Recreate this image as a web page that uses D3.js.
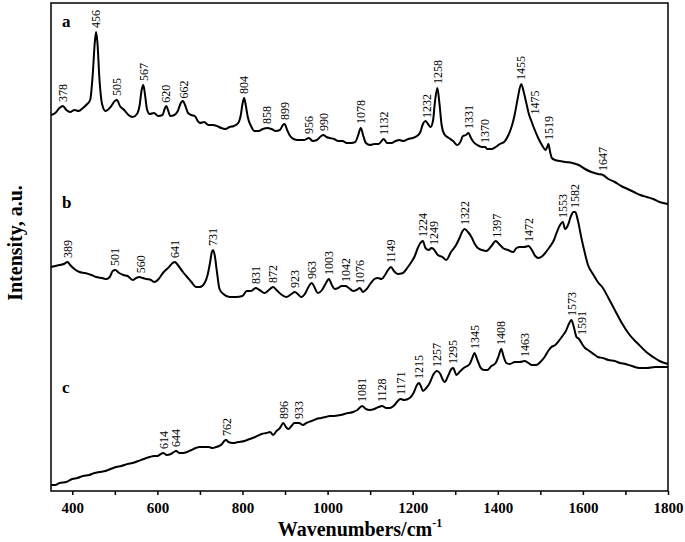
<!DOCTYPE html>
<html>
<head>
<meta charset="utf-8">
<script src="https://cdn.jsdelivr.net/npm/d3@7"></script>
<style>
  html, body { margin: 0; padding: 0; background: #fff; }
  svg { display: block; }
  text { font-family: "Liberation Serif", "Times New Roman", serif; fill: #000; }
</style>
</head>
<body>
<svg id="chart" width="685" height="542"></svg>
<script>
// ---- Data (wavenumber cm^-1, intensity a.u.) ----
const seriesA = [[350,376],[360,378],[370,383],[378,385],[386,381],[395,379],[405,381],[415,380],[425,383],[435,387],[442,391],[448,416],[453,449],[456,459],[459,449],[464,411],[470,387],[478,380],[490,384],[500,390],[505,391],[512,385],[522,381],[532,376],[542,374],[552,377],[558,385],[563,401],[567,406],[571,396],[576,381],[582,377],[592,378],[602,375],[612,376],[617,382],[621,385],[625,381],[630,375],[640,376],[648,380],[655,388],[660,390],[665,386],[672,378],[680,376],[688,375],[695,370],[700,368],[710,369],[720,366],[730,366],[740,365],[750,363],[760,362],[770,364],[780,365],[790,368],[796,376],[800,387],[804,393],[808,385],[813,373],[820,365],[828,360],[838,360],[848,362],[858,363],[868,362],[878,360],[888,361],[895,366],[899,367],[905,361],[912,355],[920,352],[930,351],[945,351],[956,353],[965,350],[975,351],[985,355],[990,356],[997,354],[1005,353],[1015,352],[1025,350],[1035,350],[1045,348],[1055,348],[1065,349],[1072,356],[1078,363],[1084,355],[1090,348],[1100,346],[1110,347],[1120,347],[1132,352],[1140,348],[1150,348],[1160,350],[1168,351],[1178,350],[1190,352],[1200,353],[1210,355],[1218,359],[1224,367],[1230,370],[1236,367],[1242,364],[1248,371],[1252,388],[1258,403],[1263,387],[1268,366],[1274,357],[1285,353],[1295,350],[1305,346],[1312,349],[1318,355],[1325,356],[1331,358],[1337,353],[1343,349],[1352,346],[1362,344],[1370,344],[1375,342],[1385,342],[1395,344],[1405,347],[1415,349],[1425,356],[1433,365],[1440,377],[1447,393],[1455,407],[1461,399],[1467,388],[1473,377],[1478,371],[1485,363],[1495,353],[1505,345],[1512,341],[1516,344],[1519,347],[1523,339],[1527,333],[1535,331],[1545,330],[1560,329],[1575,328],[1590,326],[1605,322],[1620,319],[1635,317],[1647,316],[1660,312],[1675,309],[1690,305],[1705,302],[1720,299],[1735,296],[1750,294],[1765,292],[1780,289],[1800,287]];

const seriesB = [[350,224],[360,225],[370,226],[380,227],[389,229],[395,226],[405,222],[417,219],[430,218],[445,216],[456,214],[470,213],[480,212],[488,214],[495,220],[501,221],[510,218],[520,216],[530,215],[542,211],[550,213],[558,214],[565,213],[575,212],[585,211],[593,209],[603,212],[613,218],[625,223],[636,228],[641,229],[648,226],[660,219],[670,214],[680,209],[691,204],[700,204],[711,208],[718,216],[724,229],[728,239],[731,241],[735,235],[740,219],[746,202],[755,197],[770,194],[785,194],[800,195],[810,200],[820,200],[831,203],[840,201],[852,198],[862,201],[872,204],[880,201],[890,197],[903,194],[915,197],[923,199],[930,197],[938,194],[948,198],[955,204],[963,208],[970,203],[977,198],[987,201],[995,207],[1003,212],[1010,206],[1017,202],[1025,203],[1033,205],[1042,205],[1050,203],[1060,200],[1068,201],[1076,203],[1083,199],[1092,202],[1100,207],[1110,212],[1118,213],[1127,212],[1135,216],[1142,221],[1149,224],[1156,220],[1165,217],[1177,218],[1187,223],[1197,229],[1205,235],[1212,243],[1218,248],[1224,250],[1230,243],[1238,241],[1244,243],[1249,242],[1259,236],[1270,234],[1279,231],[1290,239],[1302,246],[1310,253],[1316,259],[1322,262],[1330,259],[1338,254],[1346,247],[1353,243],[1363,241],[1373,240],[1385,245],[1395,250],[1403,247],[1412,243],[1424,241],[1436,239],[1444,243],[1452,244],[1462,244],[1472,245],[1480,241],[1488,235],[1495,233],[1505,235],[1515,240],[1522,244],[1532,251],[1538,258],[1545,265],[1553,269],[1558,262],[1565,266],[1572,275],[1578,279],[1582,279],[1588,271],[1596,254],[1604,239],[1612,226],[1625,216],[1635,209],[1647,203],[1660,193],[1675,181],[1690,169],[1710,156],[1730,147],[1749,139],[1765,134],[1780,130],[1800,127]];

const seriesC = [[350,6],[360,6],[370,8],[386,9],[400,12],[412,13],[425,15],[440,16],[452,18],[464,19],[478,20],[490,22],[503,24],[515,25],[530,27],[542,28],[555,30],[568,32],[582,34],[592,35],[600,35],[608,37],[614,38],[622,36],[632,37],[644,40],[652,38],[660,38],[670,39],[680,41],[690,43],[699,44],[710,44],[720,44],[730,43],[738,44],[745,45],[752,47],[757,50],[762,51],[767,49],[777,48],[790,49],[805,50],[817,52],[830,54],[845,57],[856,58],[865,59],[872,56],[880,60],[888,63],[896,68],[902,64],[908,62],[915,65],[922,68],[933,68],[942,66],[950,68],[962,70],[974,72],[985,73],[995,74],[1005,75],[1015,75],[1030,76],[1048,78],[1060,79],[1070,81],[1081,85],[1090,82],[1099,81],[1110,82],[1120,84],[1128,85],[1138,83],[1146,83],[1155,85],[1163,89],[1171,92],[1180,91],[1193,93],[1202,98],[1210,106],[1215,108],[1220,104],[1224,100],[1232,103],[1240,108],[1248,116],[1257,120],[1265,117],[1270,112],[1275,109],[1283,115],[1291,122],[1295,123],[1303,116],[1310,119],[1320,123],[1334,127],[1340,133],[1345,138],[1352,131],[1360,123],[1368,121],[1375,121],[1385,125],[1395,128],[1402,135],[1408,142],[1414,134],[1420,128],[1428,127],[1440,129],[1452,129],[1463,130],[1472,128],[1480,126],[1490,126],[1500,129],[1510,134],[1520,141],[1526,144],[1535,146],[1545,151],[1552,155],[1560,160],[1567,167],[1573,171],[1578,165],[1585,154],[1591,152],[1598,147],[1605,143],[1612,141],[1625,137],[1635,134],[1647,133],[1660,131],[1675,130],[1687,128],[1700,127],[1715,125],[1733,123],[1750,123],[1770,124],[1785,124],[1800,124]];

const peaksA = [378,456,505,567,620,662,804,858,899,956,990,1078,1132,1232,1258,1331,1370,1455,1475,1519,1647];
const peaksB = [389,501,560,641,731,831,872,923,963,1003,1042,1076,1149,1224,1249,1322,1397,1472,1553,1582];
const peaksC = [614,644,762,896,933,1081,1128,1171,1215,1257,1295,1345,1408,1463,1573,1591];

const seriesNames = ["a", "b", "c"];
const xTicks = [400,500,600,700,800,900,1000,1100,1200,1300,1400,1500,1600,1700,1800];
const xDomain = [350, 1800];
const yDomain = [0, 488];

// ---- Layout ----
const W = 685, H = 542;
const margin = {left: 51, right: 17, top: 3, bottom: 51};
const svg = d3.select("#chart");

const x = d3.scaleLinear().domain(xDomain).range([margin.left, W - margin.right]);
const y = d3.scaleLinear().domain(yDomain).range([H - margin.bottom, margin.top]);

const line = d3.line().x(d => x(d[0])).y(d => y(d[1])).curve(d3.curveMonotoneX);

const allSeries = [seriesA, seriesB, seriesC];
const allPeaks = [peaksA, peaksB, peaksC];

svg.append("g").selectAll("path").data(allSeries).join("path")
  .attr("d", line)
  .attr("fill", "none")
  .attr("stroke", "#000")
  .attr("stroke-width", 2)
  .attr("stroke-linejoin", "round");

function valueAt(series, w) {
  for (let i = 0; i < series.length - 1; i++) {
    const [x0, y0] = series[i], [x1, y1] = series[i + 1];
    if (w >= x0 && w <= x1) return y0 + (y1 - y0) * (w - x0) / (x1 - x0);
  }
  return series[series.length - 1][1];
}

// small label nudges where a label sits on a steep flank
const labelNudge = {"0-1475": [5, 2], "2-1591": [3, 0]};

// peak labels
allPeaks.forEach((peaks, si) => {
  const g = svg.append("g");
  peaks.forEach(p => {
    const n = labelNudge[si + "-" + p] || [0, 0];
    const px = x(p) + n[0], py = y(valueAt(allSeries[si], p)) - 4 + n[1];
    g.append("text")
      .attr("transform", `translate(${px},${py}) rotate(-90)`)
      .attr("dy", "0.35em")
      .attr("text-anchor", "start")
      .style("font-size", "12px")
      .text(p);
  });
});

// series letters
const letterPos = [[62, 27], [62, 208], [62, 393]];
seriesNames.forEach((n, i) => {
  svg.append("text")
    .attr("x", letterPos[i][0]).attr("y", letterPos[i][1])
    .style("font-size", "17px").style("font-weight", "bold")
    .text(n);
});

// frame
svg.append("rect")
  .attr("x", margin.left).attr("y", margin.top)
  .attr("width", W - margin.left - margin.right)
  .attr("height", H - margin.top - margin.bottom)
  .attr("fill", "none").attr("stroke", "#000").attr("stroke-width", 1.5);

// x axis
const xAxis = d3.axisBottom(x).tickValues(xTicks).tickSize(4).tickPadding(7)
  .tickFormat(d => d % 200 === 0 ? d : "");
const gx = svg.append("g").attr("transform", `translate(0,${H - margin.bottom})`).call(xAxis);
gx.select(".domain").remove();
gx.selectAll(".tick line").attr("stroke", "#000").attr("stroke-width", 1.5);
gx.selectAll(".tick text")
  .style("font-family", '"Liberation Serif", serif')
  .style("font-size", "15px").style("font-weight", "bold").attr("fill", "#000");

// axis titles
const xt = svg.append("text")
  .attr("x", 360).attr("y", 536)
  .attr("text-anchor", "middle")
  .style("font-size", "20px").style("font-weight", "bold");
xt.append("tspan").text("Wavenumbers/cm");
xt.append("tspan").attr("dy", "-9").style("font-size", "12px").text("-1");

svg.append("text")
  .attr("transform", "translate(22,243) rotate(-90)")
  .attr("text-anchor", "middle")
  .style("font-size", "20px").style("font-weight", "bold")
  .text("Intensity, a.u.");
</script>
</body>
</html>
